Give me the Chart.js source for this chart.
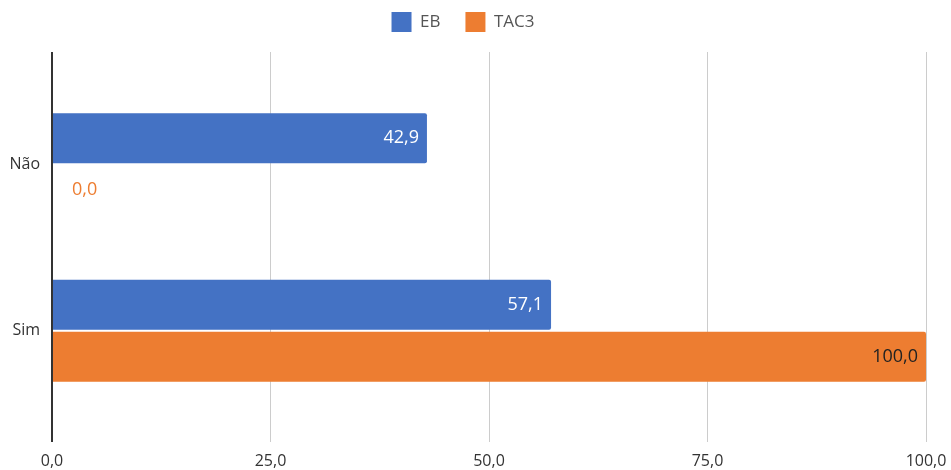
<!DOCTYPE html>
<html>
<head>
<meta charset="utf-8">
<script src="https://cdn.jsdelivr.net/npm/chart.js@4"></script>
<style>
  html, body { margin: 0; padding: 0; background: #fff; }
  #wrap { width: 951px; height: 470px; }
</style>
</head>
<body>
<div id="wrap"><canvas id="barChart"></canvas></div>
<script>
var labels = ['Não', 'Sim'];
var ebValues = [42.9, 57.1];
var tac3Values = [0.0, 100.0];
var tickValues = [0, 25, 50, 75, 100];

function fmt(v) {
  return Number(v).toFixed(1).replace('.', ',');
}

// rótulos de valor na ponta das barras
var valueLabels = {
  id: 'valueLabels',
  afterDatasetsDraw: function (chart) {
    var ctx = chart.ctx;
    ctx.save();
    ctx.font = '18px "Open Sans", sans-serif';
    ctx.textBaseline = 'middle';
    chart.data.datasets.forEach(function (ds, i) {
      var meta = chart.getDatasetMeta(i);
      meta.data.forEach(function (bar, j) {
        var txt = fmt(ds.data[j]);
        var w = ctx.measureText(txt).width;
        if (bar.x - bar.base > w + 16) {
          ctx.fillStyle = ds.labelColor;
          ctx.textAlign = 'right';
          ctx.fillText(txt, bar.x - 8, bar.y);
        } else {
          ctx.fillStyle = ds.backgroundColor;
          ctx.textAlign = 'left';
          ctx.fillText(txt, bar.x + 20, bar.y);
        }
      });
    });
    ctx.restore();
  }
};

var data = {
  labels: labels,
  datasets: [{
    label: 'EB',
    data: ebValues,
    backgroundColor: '#4472C4',
    labelColor: '#ffffff',
    borderRadius: 2,
    borderSkipped: 'start',
    categoryPercentage: 0.625,
    barPercentage: 0.96
  }, {
    label: 'TAC3',
    data: tac3Values,
    backgroundColor: '#ED7D31',
    labelColor: '#222222',
    borderRadius: 2,
    borderSkipped: 'start',
    categoryPercentage: 0.625,
    barPercentage: 0.96
  }]
};

var gridColor = function (c) {
  return c.index === 0 ? '#333333' : '#cccccc';
};
var gridWidth = function (c) {
  return c.index === 0 ? 2 : 1;
};

var config = {
  type: 'bar',
  data: data,
  plugins: [valueLabels],
  options: {
    indexAxis: 'y',
    responsive: true,
    maintainAspectRatio: false,
    animation: false,
    layout: { padding: { top: -13, right: 25, bottom: 0, left: 0 } },
    plugins: {
      legend: {
        position: 'top',
        align: 'center',
        labels: {
          boxWidth: 20,
          boxHeight: 20,
          padding: 25,
          color: '#555555',
          font: { family: '"Open Sans", sans-serif', size: 17 }
        }
      },
      tooltip: { enabled: false }
    },
    scales: {
      x: {
        min: 0,
        max: 100,
        afterBuildTicks: function (s) {
          s.ticks = tickValues.map(function (v) { return { value: v }; });
        },
        afterFit: function (s) { s.height = 56; s.paddingRight = 0; s.paddingLeft = 0; },
        grid: { color: gridColor, tickLength: 28, lineWidth: gridWidth },
        border: { display: false },
        ticks: {
          padding: 10,
          color: '#333333',
          font: { family: '"Open Sans", sans-serif', size: 16 },
          callback: function (v) { return fmt(v); }
        }
      },
      x2: {
        position: 'top',
        axis: 'x',
        min: 0,
        max: 100,
        afterBuildTicks: function (s) {
          s.ticks = tickValues.map(function (v) { return { value: v }; });
        },
        afterFit: function (s) { s.height = 39; s.paddingRight = 0; s.paddingLeft = 0; },
        grid: { drawOnChartArea: false, color: gridColor, tickLength: 29, lineWidth: gridWidth },
        border: { display: false },
        ticks: { display: false }
      },
      y: {
        grid: { display: false },
        border: { display: false },
        afterFit: function (s) { s.width = 52; },
        ticks: {
          padding: 4,
          color: '#333333',
          font: { family: '"Open Sans", sans-serif', size: 16 }
        }
      }
    }
  }
};

var barChart = new Chart(document.getElementById('barChart'), config);
</script>
</body>
</html>
